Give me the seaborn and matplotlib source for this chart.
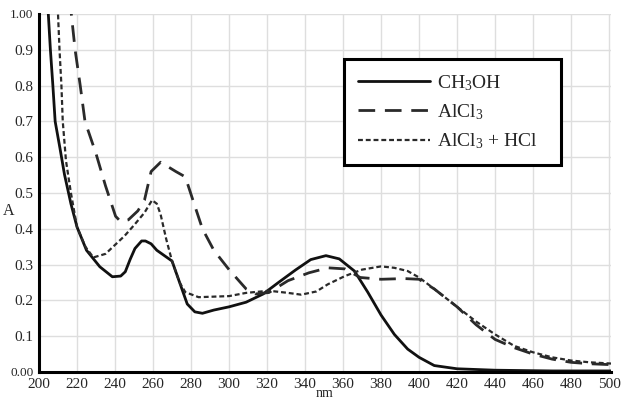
"""
UV spectra of the flavonoid in methanol and with shift reagents.
"""

import matplotlib
matplotlib.use("Agg")
import matplotlib.pyplot as plt
import seaborn as sns

# CH3OH (solid)
nm_meoh = [203.5, 204.9, 206, 207.3, 208.5, 211, 213.4, 216.8, 220, 225, 232,
           238.6, 243, 245.4, 248, 250.5, 254, 256, 259, 262, 266, 270, 274,
           278, 282, 286, 292, 300, 309, 318, 326, 335, 343, 351, 358, 366,
           373, 380, 387, 394, 400, 408, 420, 440, 470, 503]
a_meoh = [1.12, 1.0, 0.9, 0.8, 0.7, 0.626, 0.552, 0.47, 0.405, 0.34, 0.294,
          0.266, 0.268, 0.28, 0.315, 0.345, 0.366, 0.366, 0.358, 0.34, 0.325,
          0.31, 0.25, 0.19, 0.168, 0.164, 0.173, 0.182, 0.195, 0.218, 0.25,
          0.285, 0.314, 0.325, 0.316, 0.282, 0.223, 0.159, 0.105, 0.064,
          0.041, 0.018, 0.009, 0.005, 0.003, 0.003]

# AlCl3 (long dashes)
nm_alcl3 = [215.5, 217, 219, 221.7, 224.2, 230, 235, 240.3, 243, 247, 252,
            255.5, 259, 264, 272, 277, 281, 286, 292, 300, 309, 314, 321, 331,
            342, 352, 361, 369, 380, 392, 400, 408, 420, 430, 440, 450, 460,
            470, 480, 490, 503]
a_alcl3 = [1.1, 1.0, 0.9, 0.8, 0.7, 0.61, 0.52, 0.435, 0.42, 0.425, 0.45,
           0.48, 0.56, 0.586, 0.56, 0.545, 0.48, 0.40, 0.34, 0.286, 0.232,
           0.218, 0.222, 0.255, 0.277, 0.291, 0.288, 0.264, 0.259, 0.261,
           0.259, 0.232, 0.182, 0.132, 0.091, 0.068, 0.05, 0.036, 0.027,
           0.023, 0.02]

# AlCl3 + HCl (short dashes)
nm_hcl = [209.2, 210, 210.8, 211.8, 212.5, 214.2, 216.8, 220, 224.4, 228.6,
          235, 240, 245, 250, 255.5, 259.5, 262, 264, 267, 270, 274, 277, 284,
          300, 309, 321, 331, 338, 346, 352, 361, 370, 380, 387, 394, 400,
          408, 420, 430, 440, 450, 460, 470, 480, 490, 503]
a_hcl = [1.1, 1.0, 0.9, 0.8, 0.7, 0.59, 0.5, 0.405, 0.35, 0.32, 0.33, 0.355,
         0.38, 0.41, 0.445, 0.48, 0.47, 0.44, 0.37, 0.31, 0.25, 0.223, 0.209,
         0.212, 0.221, 0.227, 0.221, 0.216, 0.225, 0.245, 0.268, 0.286, 0.295,
         0.291, 0.282, 0.264, 0.232, 0.182, 0.141, 0.105, 0.073, 0.055,
         0.041, 0.032, 0.027, 0.023]

x_ticks = list(range(200, 501, 20))
y_ticks = [0.0, 0.1, 0.2, 0.3, 0.4, 0.5, 0.6, 0.7, 0.8, 0.9, 1.0]
y_labels = ["0.00", "0.1", "0.2", "0.3", "0.4", "0.5", "0.6", "0.7", "0.8",
            "0.9", "1.00"]

sns.set_style("whitegrid", {"grid.color": "#dedede", "axes.edgecolor": "black"})
plt.rcParams["font.family"] = ["Liberation Serif", "DejaVu Serif"]
plt.rcParams["mathtext.fontset"] = "custom"
plt.rcParams["mathtext.rm"] = "Liberation Serif"
plt.rcParams["mathtext.it"] = "Liberation Serif"

fig = plt.figure(figsize=(6.22, 4.0), dpi=100)
ax = fig.add_axes([39 / 622, 1 - 372 / 400, 572 / 622, 358 / 400])

sns.lineplot(x=nm_meoh, y=a_meoh, ax=ax, color="#111111", linewidth=2.0,
             label="CH$_3$OH")
sns.lineplot(x=nm_alcl3, y=a_alcl3, ax=ax, color="#2a2a2a", linewidth=2.0,
             dashes=(6, 3.5), label="AlCl$_3$")
sns.lineplot(x=nm_hcl, y=a_hcl, ax=ax, color="#2a2a2a", linewidth=1.6,
             dashes=(2.2, 1.3), label="AlCl$_3$ + HCl")

ax.set_xlim(200, 501)
ax.set_ylim(0, 1.0)
ax.set_xticks(x_ticks)
ax.set_yticks(y_ticks)
ax.set_yticklabels(y_labels)
for lbl in ax.get_yticklabels():
    lbl.set_fontsize(9.5 if lbl.get_text() in ("0.00", "1.00") else 11)
for lbl in ax.get_xticklabels():
    lbl.set_fontsize(11)
ax.tick_params(axis="both", length=3, width=1.2, color="black", pad=1)
ax.grid(True, color="#dedede", linewidth=1.0)

for side in ("top", "right"):
    ax.spines[side].set_visible(False)
for side in ("left", "bottom"):
    ax.spines[side].set_linewidth(2.2)
    ax.spines[side].set_color("black")

ax.set_xlabel("")
ax.set_ylabel("")
ax.text(-0.053, 0.45, "A", transform=ax.transAxes, fontsize=11.5,
        ha="center", va="center")
ax.text(0.5, -0.061, "nm", transform=ax.transAxes, fontsize=10,
        ha="center", va="center")

leg = ax.legend(loc="upper left", bbox_to_anchor=(0.516, 0.60, 0.413, 0.302),
                mode="expand", fontsize=14, handlelength=3.7,
                handletextpad=0.35, borderpad=0.72, labelspacing=0.5,
                fancybox=False, framealpha=1.0, edgecolor="black")
leg.get_frame().set_linewidth(2.2)

fig.savefig("out.png", dpi=100)
